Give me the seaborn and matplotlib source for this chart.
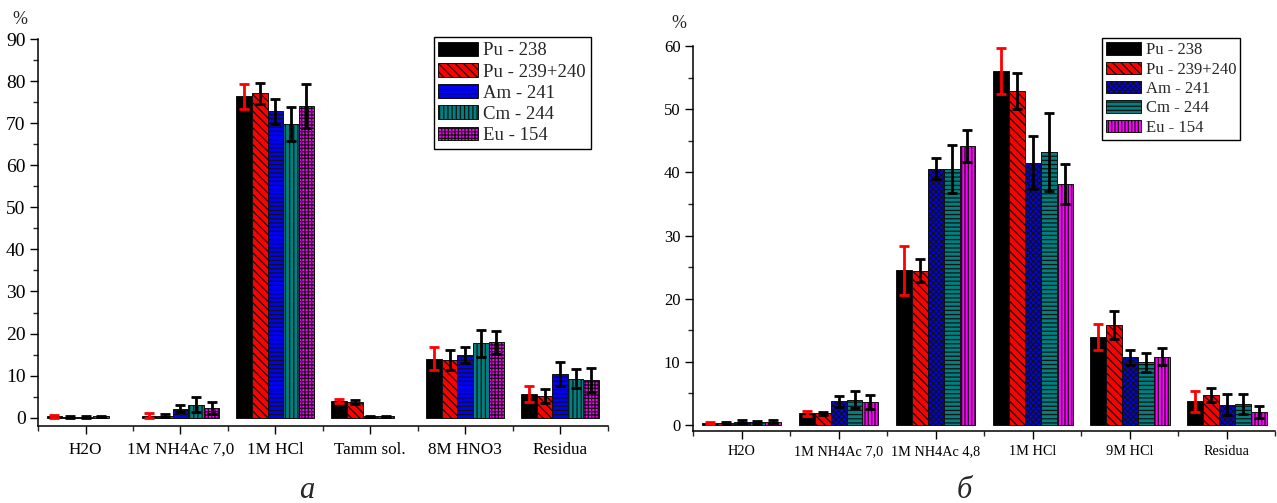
import matplotlib
matplotlib.use("Agg")
import matplotlib.pyplot as plt
import matplotlib.ticker as mticker
import numpy as np
import pandas as pd
import seaborn as sns

sns.set_theme(style="ticks")
plt.rcParams["font.family"] = ["Liberation Serif", "DejaVu Serif"]
plt.rcParams["hatch.linewidth"] = 0.9
plt.rcParams["hatch.color"] = "black"

ISOTOPES = ["Pu - 238", "Pu - 239+240", "Am - 241", "Cm - 244", "Eu - 154"]
COLORS = ["#000000", "#ff0000", "#0000ff", "#008080", "#ff00ff"]

# --- панель а ---
FRAC_A = ["H2O", "1M NH4Ac 7,0", "1M HCl", "Tamm sol.", "8M HNO3", "Residua"]
a_pu238 = [0.3, 0.5, 76.4, 4.0, 14.0, 5.7]
a_pu239 = [0.2, 0.5, 77.2, 3.7, 13.8, 5.1]
a_am241 = [0.2, 2.1, 72.9, 0.3, 15.0, 10.4]
a_cm244 = [0.3, 3.1, 69.8, 0.3, 17.7, 9.3]
a_eu154 = [np.nan, 2.2, 74.2, np.nan, 17.9, 9.0]
a_err_pu238 = [0.4, 0.5, 2.9, 0.5, 2.7, 1.9]
a_err_pu239 = [0.2, 0.3, 2.5, 0.4, 2.4, 1.7]
a_err_am241 = [0.2, 0.8, 3.0, 0.2, 1.9, 2.8]
a_err_cm244 = [0.2, 1.7, 4.0, 0.2, 3.2, 2.3]
a_err_eu154 = [np.nan, 1.4, 5.2, np.nan, 2.8, 2.8]
HATCH_A = ["", "\\\\\\\\", "----", "||||", "+++++"]

# --- панель б ---
FRAC_B = ["H2O", "1M NH4Ac 7,0", "1M NH4Ac 4,8", "1M HCl", "9M HCl", "Residua"]
b_pu238 = [0.3, 1.8, 24.5, 56.1, 13.9, 3.7]
b_pu239 = [0.3, 1.8, 24.4, 52.9, 15.8, 4.7]
b_am241 = [0.5, 3.7, 40.6, 41.5, 10.7, 3.2]
b_cm244 = [0.4, 4.0, 40.5, 43.3, 9.9, 3.3]
b_eu154 = [0.5, 3.6, 44.2, 38.2, 10.8, 2.0]
b_err_pu238 = [0.2, 0.4, 3.9, 3.6, 2.0, 1.6]
b_err_pu239 = [0.2, 0.2, 1.8, 2.8, 2.2, 1.1]
b_err_am241 = [0.2, 0.9, 1.7, 4.2, 1.2, 1.6]
b_err_cm244 = [0.2, 1.4, 3.8, 6.2, 1.5, 1.6]
b_err_eu154 = [0.2, 1.1, 2.5, 3.2, 1.3, 0.9]
HATCH_B = ["", "\\\\\\\\", "xxxxxx", "----", "|||||"]


def desenhar_painel(ax, fracs, valores, erros, hatches, ylim, fs_tick_y, fs_tick_x,
                    fs_leg, leg_anchor, xpad):
    linhas = []
    for iso, vals in zip(ISOTOPES, valores):
        for fr, v in zip(fracs, vals):
            if not np.isnan(v):
                linhas.append({"fracao": fr, "isotopo": iso, "valor": v})
    df = pd.DataFrame(linhas)

    sns.barplot(
        data=df, x="fracao", y="valor", hue="isotopo",
        order=fracs, hue_order=ISOTOPES,
        palette=dict(zip(ISOTOPES, COLORS)), saturation=1,
        width=0.82, errorbar=None, edgecolor="#111111", linewidth=0.7,
        legend=False, ax=ax,
    )
    barras = list(ax.containers)

    for k, cont in enumerate(barras):
        cor_err = "#ff0000" if k == 0 else "black"
        for bar in cont:
            bar.set_hatch(hatches[k])
            xc = bar.get_x() + bar.get_width() / 2
            cat = int(round(xc))
            ax.errorbar(xc, bar.get_height(), yerr=erros[k][cat], fmt="none",
                        ecolor=cor_err, elinewidth=2.0, capsize=3.6,
                        capthick=2.0, zorder=4)

    ax.set_xlim(-0.5, 5.5)
    ax.set_ylim(*ylim)
    ax.set_xlabel("")
    ax.set_ylabel("")
    ax.yaxis.set_major_locator(mticker.MultipleLocator(10))
    ax.yaxis.set_minor_locator(mticker.MultipleLocator(5))
    ax.xaxis.set_minor_locator(mticker.FixedLocator(np.arange(-0.5, 6, 1)))
    ax.tick_params(axis="y", which="major", direction="out", length=6, width=1,
                   labelsize=fs_tick_y, pad=3, colors="black")
    ax.tick_params(axis="y", which="minor", direction="out", length=3.5, width=1)
    ax.tick_params(axis="x", which="major", direction="out", length=6, width=1,
                   labelsize=fs_tick_x, pad=xpad, colors="black")
    ax.tick_params(axis="x", which="minor", direction="out", length=3.5, width=1)
    sns.despine(ax=ax)
    for s in ["left", "bottom"]:
        ax.spines[s].set_color("black")
        ax.spines[s].set_linewidth(1.1)

    leg = ax.legend(barras, ISOTOPES, loc="upper right",
                    bbox_to_anchor=leg_anchor, borderaxespad=0,
                    fontsize=fs_leg, fancybox=False, framealpha=1,
                    edgecolor="black", handlelength=2.1, handleheight=0.75,
                    handletextpad=0.3, labelspacing=0.2, borderpad=0.25)
    leg.get_frame().set_linewidth(1.0)


fig = plt.figure(figsize=(12.77, 5.03), dpi=100)
ax1 = fig.add_axes([0.0298, 0.153, 0.446, 0.769])
ax2 = fig.add_axes([0.5427, 0.143, 0.456, 0.765])

desenhar_painel(
    ax1, FRAC_A,
    [a_pu238, a_pu239, a_am241, a_cm244, a_eu154],
    [a_err_pu238, a_err_pu239, a_err_am241, a_err_cm244, a_err_eu154],
    HATCH_A, (-2, 90), 14, 12.3, 13.5, (0.970, 1.005), 5.5,
)
desenhar_painel(
    ax2, FRAC_B,
    [b_pu238, b_pu239, b_am241, b_cm244, b_eu154],
    [b_err_pu238, b_err_pu239, b_err_am241, b_err_cm244, b_err_eu154],
    HATCH_B, (-1, 60), 12, 10.3, 12, (0.940, 1.021), 4,
)

fig.text(20 / 1277, 1 - 19 / 503, "%", ha="center", va="center", fontsize=13)
fig.text(679 / 1277, 1 - 24 / 503, "%", ha="center", va="center", fontsize=13)
fig.text(307 / 1277, 1 - 490 / 503, "а", ha="center", va="center", fontsize=22,
         style="italic")
fig.text(964 / 1277, 1 - 490 / 503, "б", ha="center", va="center", fontsize=22,
         style="italic")

fig.savefig("out.png", dpi=100)
plt.close(fig)
